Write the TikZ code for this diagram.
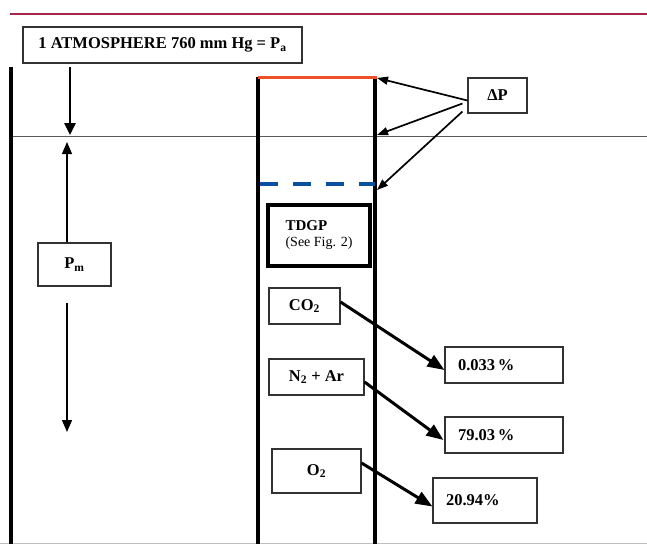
\documentclass[tikz,border=0pt]{standalone}
\usepackage{fontspec}
\setmainfont{Liberation Serif}
\usetikzlibrary{arrows.meta}
\definecolor{topmaroon}{RGB}{165,40,75}
\definecolor{redline}{RGB}{238,80,40}
\definecolor{blueline}{RGB}{10,80,160}
\definecolor{boxgray}{RGB}{50,50,50}
\begin{document}
\begin{tikzpicture}[x=1pt,y=-1pt,
  lbl/.style={draw=boxgray, line width=1.1pt, inner sep=0pt, align=center,
    font=\fontsize{16.5}{20}\selectfont\bfseries},
  pct/.style={lbl, align=left, inner xsep=13pt},
  wall/.style={line width=4pt, black},
  arrbig/.style={line width=3pt, -{Triangle[length=17pt,width=13pt]}},
  arrdp/.style={line width=1.7pt, -{Triangle[length=11pt,width=8pt]}},
  arrpm/.style={line width=1.3pt, -{Triangle[length=12pt,width=10pt]}},
  arratm/.style={line width=2.6pt, -{Triangle[length=12pt,width=11pt]}}]
\useasboundingbox (0,0) rectangle (647,544);
% frame lines
\draw[topmaroon, line width=2pt] (10,14) -- (647,14);
\draw[black!25, line width=0.8pt] (0,543) -- (647,543);
\draw[black!65, line width=1pt] (12,136) -- (647,136);
% walls
\draw[wall] (11,67) -- (11,544);
\draw[wall] (258,77) -- (258,544);
\draw[wall] (375,77) -- (375,544);
\draw[redline, line width=3pt] (258,77) -- (377,77);
\draw[blueline, line width=3.5pt, dash pattern=on 18pt off 15pt] (260,184) -- (375,184);
% nodes
\node[lbl, minimum width=279pt, minimum height=36pt] (atm) at (162.5,45)
  {1 ATMOSPHERE 760 mm Hg = P\textsubscript{a}};
\node[lbl, minimum width=59pt, minimum height=35pt] (dp) at (497.5,95.5) {ΔP};
\node[lbl, minimum width=73pt, minimum height=43pt] (pm) at (74.5,264.5) {P\textsubscript{m}};
\node[draw=black, line width=3.8pt, minimum width=102pt, minimum height=61pt, inner sep=0pt,
  align=left, font=\fontsize{14}{16}\selectfont] (tdgp) at (319,235.5)
  {{\fontsize{15}{16}\selectfont\bfseries TDGP}\\(See Fig. 2)};
\node[lbl, minimum width=71pt, minimum height=36pt] (co2) at (304.5,306) {CO\textsubscript{2}};
\node[lbl, minimum width=95pt, minimum height=36pt] (n2) at (316.5,377) {N\textsubscript{2} + Ar};
\node[lbl, minimum width=89pt, minimum height=44pt] (o2) at (316.5,471) {O\textsubscript{2}};
\node[pct, text width=92pt, minimum height=36pt] (p1) at (504,365) {0.033\,\%};
\node[pct, text width=92pt, minimum height=36pt] (p2) at (504,435) {79.03\,\%};
\node[pct, text width=78pt, minimum height=45pt] (p3) at (485,500.5) {20.94\%};
% coordinates
\coordinate (atmS) at (70,67);
\coordinate (atmE) at (70,135);
\coordinate (pmtop) at (67,142);
\coordinate (pmbot) at (67,432);
\coordinate (t1) at (377,78);
\coordinate (t2) at (377,135);
\coordinate (t3) at (377,190);
% arrows
\draw[arratm] (atmS) -- (atmE);
\draw[arrpm] ([xshift=-7.5pt]pm.north) -- (pmtop);
\draw[arrpm] ([xshift=-7.5pt,yshift=-16pt]pm.south) -- (pmbot);
\draw[arrdp] ([yshift=-5pt]dp.west) -- (t1);
\draw[arrdp] ([xshift=-5pt,yshift=-8pt]dp.west) -- (t2);
\draw[arrdp] ([xshift=-5pt,yshift=-16pt]dp.west) -- (t3);
\draw[arrbig] ([yshift=4pt]co2.east) -- ([yshift=-5pt]p1.west);
\draw[arrbig] ([yshift=-5pt]n2.east) -- ([xshift=-1pt,yshift=-5pt]p2.west);
\draw[arrbig] ([yshift=8pt]o2.east) -- ([yshift=-6pt]p3.west);
\end{tikzpicture}
\end{document}
